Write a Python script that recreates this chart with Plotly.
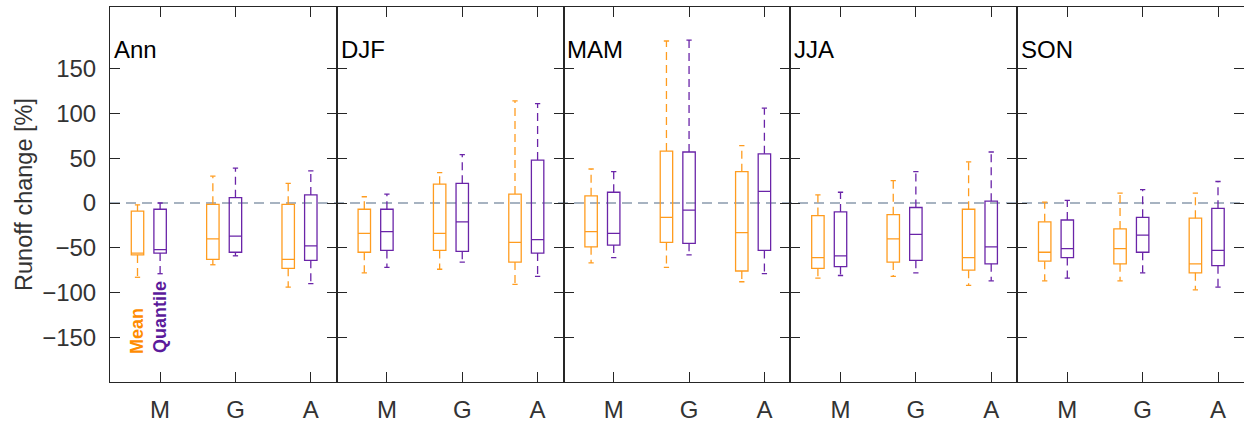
import plotly.graph_objects as go
from plotly.subplots import make_subplots

seasons = ["Ann", "DJF", "MAM", "JJA", "SON"]
methods = ["M", "G", "A"]
method_pos = [1, 2, 3]

# Mean-based (orange): per season, values for M, G, A
mean_lo  = [[-83, -69, -94], [-78, -74, -91], [-67, -72, -88], [-84, -82, -92], [-87, -87, -97]]
mean_q1  = [[-58, -63, -73], [-55, -53, -66], [-49, -44, -76], [-73, -66, -75], [-65, -68, -78]]
mean_med = [[-56, -40, -63], [-34, -34, -44], [-32, -16, -33], [-61, -40, -61], [-55, -51, -68]]
mean_q3  = [[-9, -1.5, -1.5], [-7, 21, 10], [8, 58, 35], [-14, -13, -7], [-21, -29, -17]]
mean_hi  = [[-2, 30, 22], [7, 34, 114], [38, 181, 64], [9, 25, 46], [1, 11, 11]]

# Quantile-based (purple)
quan_lo  = [[-79, -59, -90], [-72, -66, -82], [-61, -58, -79], [-81, -78, -87], [-84, -78, -94]]
quan_q1  = [[-56, -55, -64], [-53, -54, -56], [-47, -45, -53], [-71, -64, -68], [-61, -55, -70]]
quan_med = [[-52, -37, -48], [-32, -21, -41], [-34, -8, 13], [-59, -35, -49], [-51, -36, -53]]
quan_q3  = [[-7, 6, 9], [-7, 22, 48], [12, 57, 55], [-10, -5, 2], [-19, -16, -6]]
quan_hi  = [[0, 39, 36], [10, 54, 111], [35, 182, 106], [12, 35, 57], [3, 15, 24]]

y_ticks = [-150, -100, -50, 0, 50, 100, 150]

ORANGE = "#FF9C1F"
PURPLE = "#6A24A8"
AX = "#262626"
TXT = "#333333"
FONT = "Liberation Sans, Arial, Helvetica, sans-serif"

series = [
    dict(off=-0.3, color=ORANGE, lo=mean_lo, q1=mean_q1, med=mean_med, q3=mean_q3, hi=mean_hi),
    dict(off=0.0, color=PURPLE, lo=quan_lo, q1=quan_q1, med=quan_med, q3=quan_q3, hi=quan_hi),
]

BOX_W = 0.165
CAP_W = 0.07

fig = make_subplots(rows=1, cols=5, shared_yaxes=True, horizontal_spacing=0)

for si, season in enumerate(seasons):
    col = si + 1
    for s in series:
        xs = [p + s["off"] for p in method_pos]
        fig.add_trace(go.Box(
            x=xs, q1=s["q1"][si], median=s["med"][si], q3=s["q3"][si],
            lowerfence=s["q1"][si], upperfence=s["q3"][si],
            width=BOX_W, whiskerwidth=0, boxpoints=False,
            line=dict(color=s["color"], width=1.3),
            fillcolor="rgba(0,0,0,0)", hoverinfo="skip",
        ), row=1, col=col)
        # dashed whiskers
        wx, wy = [], []
        cx, cy = [], []
        for k, x in enumerate(xs):
            wx += [x, x, None, x, x, None]
            wy += [s["q3"][si][k], s["hi"][si][k], None, s["q1"][si][k], s["lo"][si][k], None]
            cx += [x - CAP_W / 2, x + CAP_W / 2, None, x - CAP_W / 2, x + CAP_W / 2, None]
            cy += [s["hi"][si][k], s["hi"][si][k], None, s["lo"][si][k], s["lo"][si][k], None]
        fig.add_trace(go.Scatter(x=wx, y=wy, mode="lines",
                                 line=dict(color=s["color"], width=1.3, dash="8px,5px"),
                                 hoverinfo="skip"), row=1, col=col)
        fig.add_trace(go.Scatter(x=cx, y=cy, mode="lines",
                                 line=dict(color=s["color"], width=1.3),
                                 hoverinfo="skip"), row=1, col=col)

    xname = "xaxis" if col == 1 else f"xaxis{col}"
    fig.layout[xname].update(
        range=[0.335, 3.345], tickmode="array", tickvals=method_pos, ticktext=methods,
        ticks="inside", ticklen=10, tickcolor=AX, tickwidth=1,
        showline=True, linecolor=AX, linewidth=1, mirror="ticks",
        showgrid=False, zeroline=False, ticklabelstandoff=6,
        tickfont=dict(size=24, color=TXT, family=FONT),
    )
    yname = "yaxis" if col == 1 else f"yaxis{col}"
    fig.layout[yname].update(
        range=[-200, 219], tickmode="array", tickvals=y_ticks,
        ticks="inside", ticklen=10, tickcolor=AX, tickwidth=1,
        showline=True, linecolor=AX, linewidth=1, mirror="ticks",
        showgrid=False, zeroline=False,
        tickfont=dict(size=24, color=TXT, family=FONT),
    )
    xref = "x" if col == 1 else f"x{col}"
    fig.add_annotation(text=season, xref=f"{xref} domain", x=0.008, xanchor="left",
                       yref="y", y=171, yanchor="middle", showarrow=False,
                       font=dict(size=24, color="#000000", family=FONT))

fig.layout.yaxis.update(title=dict(text="Runoff change [%]", font=dict(size=23.5, color=TXT, family=FONT),
                                   standoff=2),
                        ticklabelstandoff=8)

fig.add_shape(type="line", xref="paper", x0=0, x1=1, yref="y", y0=0, y1=0,
              line=dict(color="#8A9BAD", width=1.5, dash="10px,6px"), layer="below")

fig.add_annotation(text="<b>Mean</b>", xref="x", x=0.7, yref="y", y=-143.5, textangle=-90,
                   showarrow=False, font=dict(size=18, color="#FF8C00", family=FONT))
fig.add_annotation(text="<b>Quantile</b>", xref="x", x=0.99, yref="y", y=-127, textangle=-90,
                   showarrow=False, font=dict(size=18, color="#5B1A9B", family=FONT))

fig.update_layout(
    width=1244, height=424,
    margin=dict(l=110, r=0, t=7, b=42),
    plot_bgcolor="white", paper_bgcolor="white",
    showlegend=False, boxmode="overlay",
    font=dict(family=FONT, color=AX),
)

fig.write_html("out.html", config={"displayModeBar": False},
               post_script="document.body.style.margin='0';document.body.style.overflow='hidden';")
